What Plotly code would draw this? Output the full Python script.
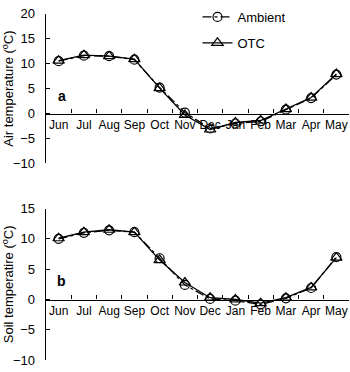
import plotly.graph_objects as go

months = ["Jun", "Jul", "Aug", "Sep", "Oct", "Nov", "Dec", "Jan", "Feb", "Mar", "Apr", "May"]
air_ambient = [10.5, 11.6, 11.5, 10.8, 5.2, 0.2, -3.0, -2.0, -1.6, 0.8, 3.1, 7.8]
air_otc = [10.6, 11.7, 11.5, 10.9, 5.1, -0.3, -3.2, -1.8, -1.4, 0.9, 3.2, 7.9]
soil_ambient = [10.0, 11.0, 11.4, 11.1, 6.8, 2.4, 0.1, -0.2, -0.8, 0.2, 1.9, 7.0]
soil_otc = [10.1, 11.1, 11.5, 11.1, 6.5, 2.8, 0.3, 0.0, -0.6, 0.3, 2.0, 6.9]

W, H = 350, 372
FONT = "Liberation Sans, Arial, sans-serif"

# pixel layout
a_top, a_bot = 7, 163
b_top, b_bot = 210, 368
dom_a = [1 - a_bot / H, 1 - a_top / H]
dom_b = [1 - b_bot / H, 1 - b_top / H]
ra = [-10, 20]
rb = [-10, 15]
pos_a = dom_a[0] + (dom_a[1] - dom_a[0]) * (0 - ra[0]) / (ra[1] - ra[0])
pos_b = dom_b[0] + (dom_b[1] - dom_b[0]) * (0 - rb[0]) / (rb[1] - rb[0])

fig = go.Figure()
mk_c = dict(symbol="circle-open", size=9, color="black", line=dict(width=1.2, color="black"))
mk_t = dict(symbol="triangle-up-open", size=10, color="black", line=dict(width=1.2, color="black"))

fig.add_trace(go.Scatter(x=months, y=air_ambient, mode="lines+markers", name="Ambient",
                         line=dict(color="black", width=1.3, dash="dashdot"), marker=mk_c,
                         xaxis="x", yaxis="y", legendgroup="amb"))
fig.add_trace(go.Scatter(x=months, y=air_otc, mode="lines+markers", name="OTC",
                         line=dict(color="black", width=1.3), marker=mk_t,
                         xaxis="x", yaxis="y", legendgroup="otc"))
fig.add_trace(go.Scatter(x=months, y=soil_ambient, mode="lines+markers", name="Ambient",
                         line=dict(color="black", width=1.3, dash="dashdot"), marker=mk_c,
                         xaxis="x2", yaxis="y2", showlegend=False))
fig.add_trace(go.Scatter(x=months, y=soil_otc, mode="lines+markers", name="OTC",
                         line=dict(color="black", width=1.3), marker=mk_t,
                         xaxis="x2", yaxis="y2", showlegend=False))

xcommon = dict(type="category", categoryorder="array", categoryarray=months,
               range=[-0.5, 11.5], domain=[0, 1], anchor="free",
               showline=True, linecolor="black", linewidth=1.2,
               ticks="inside", ticklen=4, tickcolor="black", tickson="boundaries",
               showgrid=False, zeroline=False, tickangle=0,
               tickfont=dict(family=FONT, size=12, color="black"))
ycommon = dict(showline=True, linecolor="black", linewidth=1.2, ticks="inside",
               ticklen=4, tickcolor="black", showgrid=False, zeroline=False,
               tickfont=dict(family=FONT, size=13, color="black"), dtick=5,
               ticksuffix="\u00a0\u00a0",
               title_font=dict(family=FONT, size=13, color="black"), title_standoff=4)

fig.update_layout(
    width=W, height=H, margin=dict(l=42, r=1, t=0, b=0),
    plot_bgcolor="white", paper_bgcolor="white",
    xaxis=dict(xcommon, position=pos_a),
    xaxis2=dict(xcommon, position=pos_b),
    yaxis=dict(ycommon, domain=dom_a, range=ra, anchor="x",
               title=dict(text="Air temperature (<sup>o</sup>C)")),
    yaxis2=dict(ycommon, domain=dom_b, range=rb, anchor="x2",
                title=dict(text="Soil temperatire (<sup>o</sup>C)")),
    legend=dict(x=0.5, y=1.014, xanchor="left", yanchor="top",
                bgcolor="rgba(0,0,0,0)", traceorder="grouped", tracegroupgap=6,
                font=dict(family=FONT, size=13, color="black")),
    showlegend=True,
    annotations=[
        dict(text="<b>a</b>", x=0, y=3.6, xref="x", yref="y", xshift=3, showarrow=False,
             font=dict(family=FONT, size=14, color="black")),
        dict(text="<b>b</b>", x=0, y=3.0, xref="x2", yref="y2", xshift=3, showarrow=False,
             font=dict(family=FONT, size=14, color="black")),
    ],
)

fig.write_html("out.html")
